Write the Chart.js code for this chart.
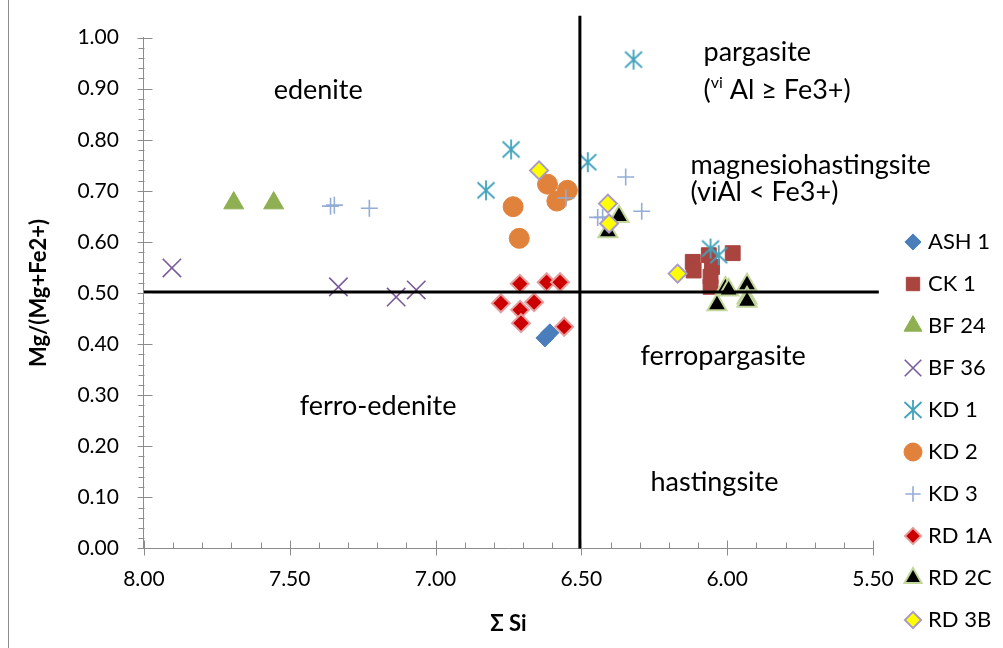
<!DOCTYPE html>
<html>
<head>
<meta charset="utf-8">
<script src="https://cdn.jsdelivr.net/npm/chart.js@4.4.0/dist/chart.umd.min.js"></script>
<style>
  html, body { margin: 0; padding: 0; background: #fff; }
  #wrap { position: relative; width: 1003px; height: 648px; }
  #frame { position: absolute; left: 8px; top: 0; width: 0; height: 648px; border-left: 1px solid #8c8c8c; }
</style>
</head>
<body>
<div id="wrap">
  <canvas id="chart" width="1003" height="648"></canvas>
  <div id="frame"></div>
</div>
<script>
// series names, same order as the legend
const seriesNames = ['ASH 1', 'CK 1', 'BF 24', 'BF 36', 'KD 1', 'KD 2', 'KD 3', 'RD 1A', 'RD 2C', 'RD 3B'];

// [sum Si, Mg/(Mg+Fe2+)]
const ash1 = [[6.625, 0.412], [6.608, 0.422]];
const ck1 = [[6.118, 0.561], [6.115, 0.544], [6.063, 0.574], [6.052, 0.551], [6.057, 0.532], [6.057, 0.512], [5.981, 0.578]];
const bf24 = [[7.692, 0.676], [7.555, 0.676]];
const bf36 = [[7.904, 0.549], [7.333, 0.512], [7.135, 0.492], [7.066, 0.506]];
const kd1 = [[6.321, 0.957], [6.741, 0.781], [6.827, 0.701], [6.478, 0.756], [6.057, 0.587], [6.029, 0.574]];
const kd2 = [[6.616, 0.713], [6.548, 0.701], [6.584, 0.680], [6.734, 0.669], [6.713, 0.607]];
const kd3 = [[7.360, 0.670], [7.347, 0.672], [7.227, 0.666], [6.553, 0.686], [6.444, 0.648], [6.427, 0.648], [6.348, 0.727], [6.293, 0.660]];
const rd1a = [[6.711, 0.518], [6.619, 0.521], [6.573, 0.521], [6.776, 0.480], [6.662, 0.482], [6.710, 0.467], [6.707, 0.441], [6.559, 0.434]];
const rd2c = [[6.371, 0.650], [6.409, 0.620], [6.006, 0.510], [5.995, 0.506], [6.035, 0.477], [5.932, 0.516], [5.932, 0.490], [5.932, 0.484]];
const rd3b = [[6.645, 0.740], [6.409, 0.675], [6.405, 0.636], [6.170, 0.538]];

// field boundaries
const boundarySi = [[6.505, 0], [6.505, 1.043]];
const boundaryMg = [[8.0, 0.502], [5.48, 0.502]];

// axis tick labels
const xTickValues = [8.0, 7.5, 7.0, 6.5, 6.0, 5.5];
const yTickValues = [0, 0.1, 0.2, 0.3, 0.4, 0.5, 0.6, 0.7, 0.8, 0.9, 1.0];

// field names
const regionLabels = [
  { parts: [{ t: 'edenite' }], x: 7.555, y: 0.896 },
  { parts: [{ t: 'ferro-edenite' }], x: 7.466, y: 0.279 },
  { parts: [{ t: 'pargasite' }], x: 6.081, y: 0.971 },
  { parts: [{ t: '(' }, { t: 'vi', sup: true }, { t: ' Al \u2265 Fe3+)' }], x: 6.081, y: 0.896 },
  { parts: [{ t: 'magnesiohastingsite' }], x: 6.126, y: 0.750 },
  { parts: [{ t: '(viAl < Fe3+)' }], x: 6.126, y: 0.697 },
  { parts: [{ t: 'ferropargasite' }], x: 6.297, y: 0.377 },
  { parts: [{ t: 'hastingsite' }], x: 6.263, y: 0.129 }
];

Chart.defaults.font.family = 'Lato';
Chart.defaults.color = '#000';

// Excel-like asterisk (vertical bar + X)
function makeAsterisk(color) {
  const c = document.createElement('canvas');
  c.width = 22; c.height = 22;
  const g = c.getContext('2d');
  g.strokeStyle = color;
  g.lineWidth = 1.8;
  g.beginPath();
  g.moveTo(11, 1); g.lineTo(11, 21);
  g.moveTo(2.5, 3); g.lineTo(19.5, 19);
  g.moveTo(2.5, 19); g.lineTo(19.5, 3);
  g.stroke();
  return c;
}

const styles = [
  { pointStyle: 'rectRot', radius: 9, bg: '#4A7EBB', border: '#4A7EBB', bw: 1 },
  { pointStyle: 'rect', radius: 10.5, bg: '#A9443F', border: '#A9443F', bw: 1 },
  { pointStyle: 'triangle', radius: 11.5, bg: '#8FB052', border: '#8FB052', bw: 1 },
  { pointStyle: 'crossRot', radius: 13, bg: 'rgba(0,0,0,0)', border: '#7A5C9E', bw: 1.6 },
  { pointStyle: makeAsterisk('#42A3BC'), radius: 10, bg: '#42A3BC', border: '#42A3BC', bw: 1 },
  { pointStyle: 'circle', radius: 10, bg: '#E0823C', border: '#E0823C', bw: 1 },
  { pointStyle: 'cross', radius: 8.5, bg: 'rgba(0,0,0,0)', border: '#93ADD6', bw: 1.6 },
  { pointStyle: 'rectRot', radius: 9, bg: '#CC0000', border: '#E4A0A0', bw: 2 },
  { pointStyle: 'triangle', radius: 11, bg: '#000000', border: '#C4D79B', bw: 2 },
  { pointStyle: 'rectRot', radius: 9, bg: '#FFFF00', border: '#A99BC6', bw: 2 }
];

const seriesData = [ash1, ck1, bf24, bf36, kd1, kd2, kd3, rd1a, rd2c, rd3b];
const toPoints = arr => arr.map(p => ({ x: p[0], y: p[1] }));

const datasets = seriesData.map((arr, i) => ({
  label: seriesNames[i],
  data: toPoints(arr),
  pointStyle: styles[i].pointStyle,
  pointRadius: styles[i].radius,
  pointHoverRadius: styles[i].radius,
  backgroundColor: styles[i].bg,
  borderColor: styles[i].border,
  pointBorderWidth: styles[i].bw,
  borderWidth: styles[i].bw,
  order: 20 - i
}));

[boundarySi, boundaryMg].forEach((arr, i) => {
  datasets.push({
    label: 'boundary' + i,
    data: toPoints(arr),
    showLine: true,
    pointRadius: 0,
    borderColor: '#000',
    borderWidth: 3,
    clip: false,
    order: 2 - i
  });
});

// minor/major tick marks like the Excel axes
const axisTicks = {
  id: 'axisTicks',
  afterDraw(chart) {
    const { ctx, scales: { x, y } } = chart;
    const ax = Math.round(x.getPixelForValue(8.0)) + 0.5;
    const ay = Math.round(y.getPixelForValue(0)) + 0.5;
    ctx.save();
    ctx.strokeStyle = '#8c8c8c';
    ctx.lineWidth = 1;
    ctx.beginPath();
    for (let i = 0; i <= 50; i++) {
      const py = Math.round(y.getPixelForValue(i * 0.02)) + 0.5;
      if (i % 5 === 0) { ctx.moveTo(ax - 7, py); ctx.lineTo(ax + 8, py); }
      else { ctx.moveTo(ax - 6, py); ctx.lineTo(ax, py); }
    }
    for (let i = 0; i <= 25; i++) {
      const px = Math.round(x.getPixelForValue(5.5 + i * 0.1)) + 0.5;
      if (i % 5 === 0) { ctx.moveTo(px, ay - 8); ctx.lineTo(px, ay + 7); }
      else { ctx.moveTo(px, ay - 6); ctx.lineTo(px, ay); }
    }
    ctx.stroke();
    ctx.restore();
  }
};

const fieldNames = {
  id: 'fieldNames',
  afterDatasetsDraw(chart) {
    const { ctx, scales: { x, y } } = chart;
    ctx.save();
    ctx.fillStyle = '#000';
    ctx.textBaseline = 'middle';
    ctx.textAlign = 'left';
    regionLabels.forEach(l => {
      let px = x.getPixelForValue(l.x);
      const py = y.getPixelForValue(l.y);
      l.parts.forEach(p => {
        ctx.font = p.sup ? '16px Lato' : '27px Lato';
        ctx.fillText(p.t, px, p.sup ? py - 8 : py);
        px += ctx.measureText(p.t).width;
      });
    });
    ctx.restore();
  }
};

const sideLegend = {
  id: 'sideLegend',
  afterDraw(chart) {
    const ctx = chart.ctx;
    const top = 242, step = 42, mx = 913, tx = 928;
    seriesNames.forEach((name, i) => {
      const st = styles[i];
      const yy = top + i * step;
      ctx.save();
      ctx.fillStyle = st.bg;
      ctx.strokeStyle = st.border;
      ctx.lineWidth = st.bw;
      Chart.helpers.drawPoint(ctx, { pointStyle: st.pointStyle, radius: st.radius * 0.9, borderWidth: st.bw, rotation: 0 }, mx, yy);
      ctx.restore();
      ctx.save();
      ctx.fillStyle = '#000';
      ctx.font = '22px Lato';
      ctx.textBaseline = 'middle';
      ctx.fillText(name, tx, yy);
      ctx.restore();
    });
  }
};

new Chart(document.getElementById('chart'), {
  type: 'scatter',
  data: { datasets },
  options: {
    responsive: false,
    animation: false,
    layout: { padding: { left: 18, right: 130, top: 37, bottom: 7 } },
    plugins: { legend: { display: false }, tooltip: { enabled: false } },
    scales: {
      x: {
        type: 'linear',
        reverse: true,
        min: 5.5,
        max: 8.0,
        afterBuildTicks: s => { s.ticks = xTickValues.map(v => ({ value: v })); },
        grid: { display: false, drawTicks: false },
        border: { display: true, color: '#8c8c8c', width: 1 },
        ticks: { padding: 18, font: { size: 21 }, maxRotation: 0, autoSkip: false, callback: v => v.toFixed(2) },
        title: { display: true, text: '\u03A3 Si', font: { size: 22, weight: 'bold' }, padding: { top: 1, bottom: 4 } }
      },
      y: {
        type: 'linear',
        min: 0,
        max: 1.0,
        afterBuildTicks: s => { s.ticks = yTickValues.map(v => ({ value: v })); },
        grid: { display: false, drawTicks: false },
        border: { display: true, color: '#8c8c8c', width: 1 },
        ticks: { padding: 25, font: { size: 21 }, autoSkip: false, callback: v => v.toFixed(2) },
        title: { display: true, text: 'Mg/(Mg+Fe2+)', font: { size: 22, weight: 'bold' }, padding: { top: 8, bottom: 0 } }
      }
    }
  },
  plugins: [fieldNames, axisTicks, sideLegend]
});
</script>
</body>
</html>
